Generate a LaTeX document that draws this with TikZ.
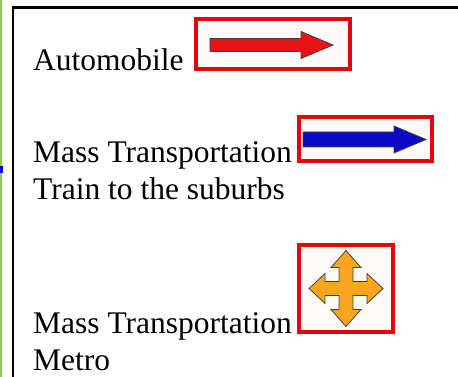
\documentclass[tikz,border=0pt]{standalone}
\usepackage{fontspec}
\setmainfont{Liberation Serif}
\definecolor{legendgreen}{RGB}{146,200,80}
\definecolor{framered}{RGB}{228,6,10}
\definecolor{iconback}{RGB}{255,250,250}
\definecolor{carred}{RGB}{230,20,20}
\definecolor{trainblue}{RGB}{10,10,200}
\definecolor{metroorange}{RGB}{250,165,30}
\tikzset{
  label text/.style={anchor=base west, inner sep=0pt, font=\fontsize{31.5}{36}\selectfont},
  icon frame/.style={draw=framered, line width=4pt, fill=iconback, inner sep=0pt},
  icon arrow/.style={draw=black!75, line width=0.8pt, line join=miter},
}
\begin{document}
\begin{tikzpicture}[x=1pt,y=-1pt]
  \useasboundingbox (0,0) rectangle (458,377);
  \fill[white] (0,0) rectangle (458,377);
  % green rule down the left edge, with its small blue tick
  \fill[legendgreen] (0,0) rectangle (2.2,377);
  \fill[trainblue] (0,166) rectangle (3,173);
  % legend frame (open to the right and bottom)
  \draw[line width=2.2pt, black] (13.2,400) -- (13.2,7.5) -- (470,7.5);

  % labels
  \node[label text] (auto) at (33,71) {Automobile};
  \node[label text] (mass1) at (33,163) {Mass Transportation};
  \node[label text] (train) at (33,200) {Train to the suburbs};
  \node[label text] (mass2) at (33,333) {Mass Transportation};
  \node[label text] (metro) at (33,370) {Metro};

  % icon frames
  \node[icon frame, minimum width=154pt, minimum height=50pt] (icar) at (273,44) {};
  \node[icon frame, minimum width=133pt, minimum height=44pt] (itrain) at (365.5,139) {};
  \node[icon frame, minimum width=94pt, minimum height=87pt] (imetro) at (346,288.5) {};

  % automobile: red arrow
  \begin{scope}[shift={(icar.center)}]
    \filldraw[icon arrow, fill=carred]
      (-63,-5.5) -- (28,-5.5) -- (28,-12.5) -- (60,1) -- (28,14.5) -- (28,7.5) -- (-63,7.5) -- cycle;
  \end{scope}

  % train to the suburbs: blue arrow
  \begin{scope}[shift={(itrain.center)}]
    \filldraw[icon arrow, fill=trainblue]
      (-62.5,-7) -- (28.5,-7) -- (28.5,-13) -- (60.5,0.5) -- (28.5,14) -- (28.5,8) -- (-62.5,8) -- cycle;
  \end{scope}

  % metro: four-way orange arrow
  \begin{scope}[shift={(imetro.center)}]
    \filldraw[icon arrow, fill=metroorange]
      (0,-38) -- (15,-21) -- (7,-21) -- (7,-7) -- (21,-7) -- (21,-15) -- (37,0)
      -- (21,15) -- (21,7) -- (7,7) -- (7,21) -- (15,21) -- (0,38)
      -- (-15,21) -- (-7,21) -- (-7,7) -- (-21,7) -- (-21,15) -- (-37,0)
      -- (-21,-15) -- (-21,-7) -- (-7,-7) -- (-7,-21) -- (-15,-21) -- cycle;
  \end{scope}
\end{tikzpicture}
\end{document}
